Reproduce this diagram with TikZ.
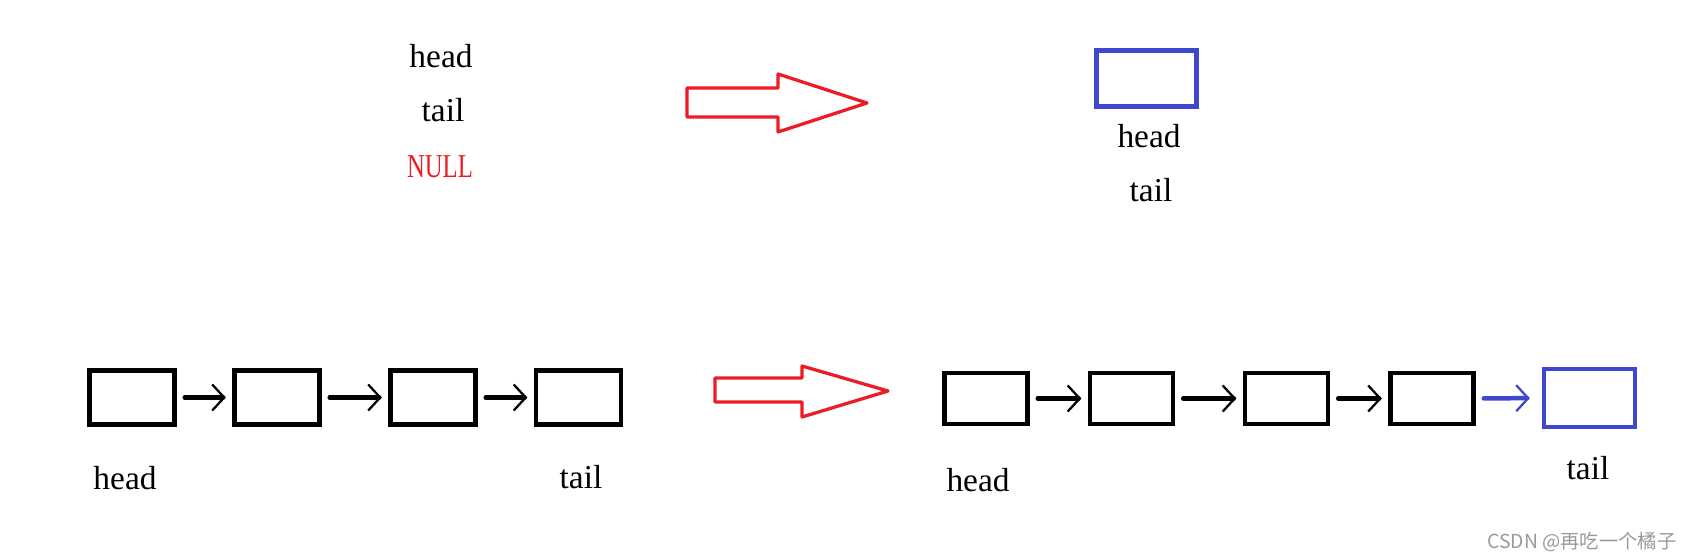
\documentclass[tikz,border=0pt]{standalone}
\usepackage{fontspec}
\setmainfont{Liberation Serif}
\newfontfamily\cjkfont{Noto Sans CJK SC}
\usetikzlibrary{arrows.meta,positioning}
\definecolor{ink}     {HTML}{000000}
\definecolor{paintred}{HTML}{ED1C24}
\definecolor{newblue} {HTML}{3F48CC}
\definecolor{wmgray}  {HTML}{9A9A9A}
\tikzset{
  cell/.style    ={draw=ink, line width=0.09cm, inner sep=0pt,
                   minimum width=1.7cm, minimum height=1.08cm},
  bigcell/.style ={cell, minimum width=1.66cm, minimum height=1.02cm},
  newcell/.style ={cell, draw=newblue},
  lbl/.style     ={inner sep=0pt, font=\fontsize{19}{23}\selectfont},
  nextarr/.style ={-{Straight Barb[length=0.24cm,width=0.52cm,line width=1.3pt]},
                   line width=0.09cm, line cap=round,
                   shorten <=0.16cm, shorten >=0.13cm},
  bigarr/.style  ={draw=paintred, line width=0.065cm, line join=round},
}

\begin{document}
\begin{tikzpicture}[x=0.02cm,y=-0.02cm]
  \useasboundingbox (0,0) rectangle (1693,560);
  % empty list: head = tail = NULL
  \node[lbl] (head0) at (441,56)  {head};
  \node[lbl] (tail0) at (443,110) {tail};
  \node[lbl,text=paintred] (null0) at (440,167) {\scalebox{0.74}[1]{NULL}};
  \draw[bigarr] (687,88) -- (778,88) -- (778,74) -- (867,103)
    -- (778,132) -- (778,117) -- (687,117) -- cycle;
  \node[newcell,minimum width=2cm,minimum height=1.12cm] (first) at (1146.5,78.5) {};
  \node[lbl] (head1) at (1149,136) {head};
  \node[lbl] (tail1) at (1151,190) {tail};

  % non-empty list: append at tail
  \node[cell] (a1) at (132,397.5) {};
  \node[cell] (a2) at (277,397.5) {};
  \node[cell] (a3) at (433,397.5) {};
  \node[cell] (a4) at (578.5,397.5) {};
  \draw[nextarr] (a1) -- (a2);
  \draw[nextarr] (a2) -- (a3);
  \draw[nextarr] (a3) -- (a4);
  \node[lbl] (head2) at (125,478) {head};
  \node[lbl] (tail2) at (581,477) {tail};

  \draw[bigarr] (715,378) -- (802,378) -- (802,366) -- (888,391)
    -- (802,417) -- (802,402) -- (715,402) -- cycle;

  \node[bigcell] (b1) at (986,398.5) {};
  \node[bigcell] (b2) at (1131.5,398.5) {};
  \node[bigcell] (b3) at (1286.5,398.5) {};
  \node[bigcell] (b4) at (1432,398.5) {};
  \node[newcell,minimum width=1.82cm,minimum height=1.16cm] (b5) at (1589.5,398) {};
  \draw[nextarr] (b1) -- (b2);
  \draw[nextarr] (b2) -- (b3);
  \draw[nextarr] (b3) -- (b4);
  \draw[nextarr,draw=newblue,shorten >=0.24cm] (b4) -- (b5);
  \node[lbl] (head3) at (978,480)  {head};
  \node[lbl] (tail3) at (1588,468) {tail};

  \node[inner sep=0pt,text=wmgray,font=\cjkfont\fontsize{11}{13}\selectfont] (mark) at (1582,542)
    {CSDN @再吃一个橘子};
\end{tikzpicture}
\end{document}
